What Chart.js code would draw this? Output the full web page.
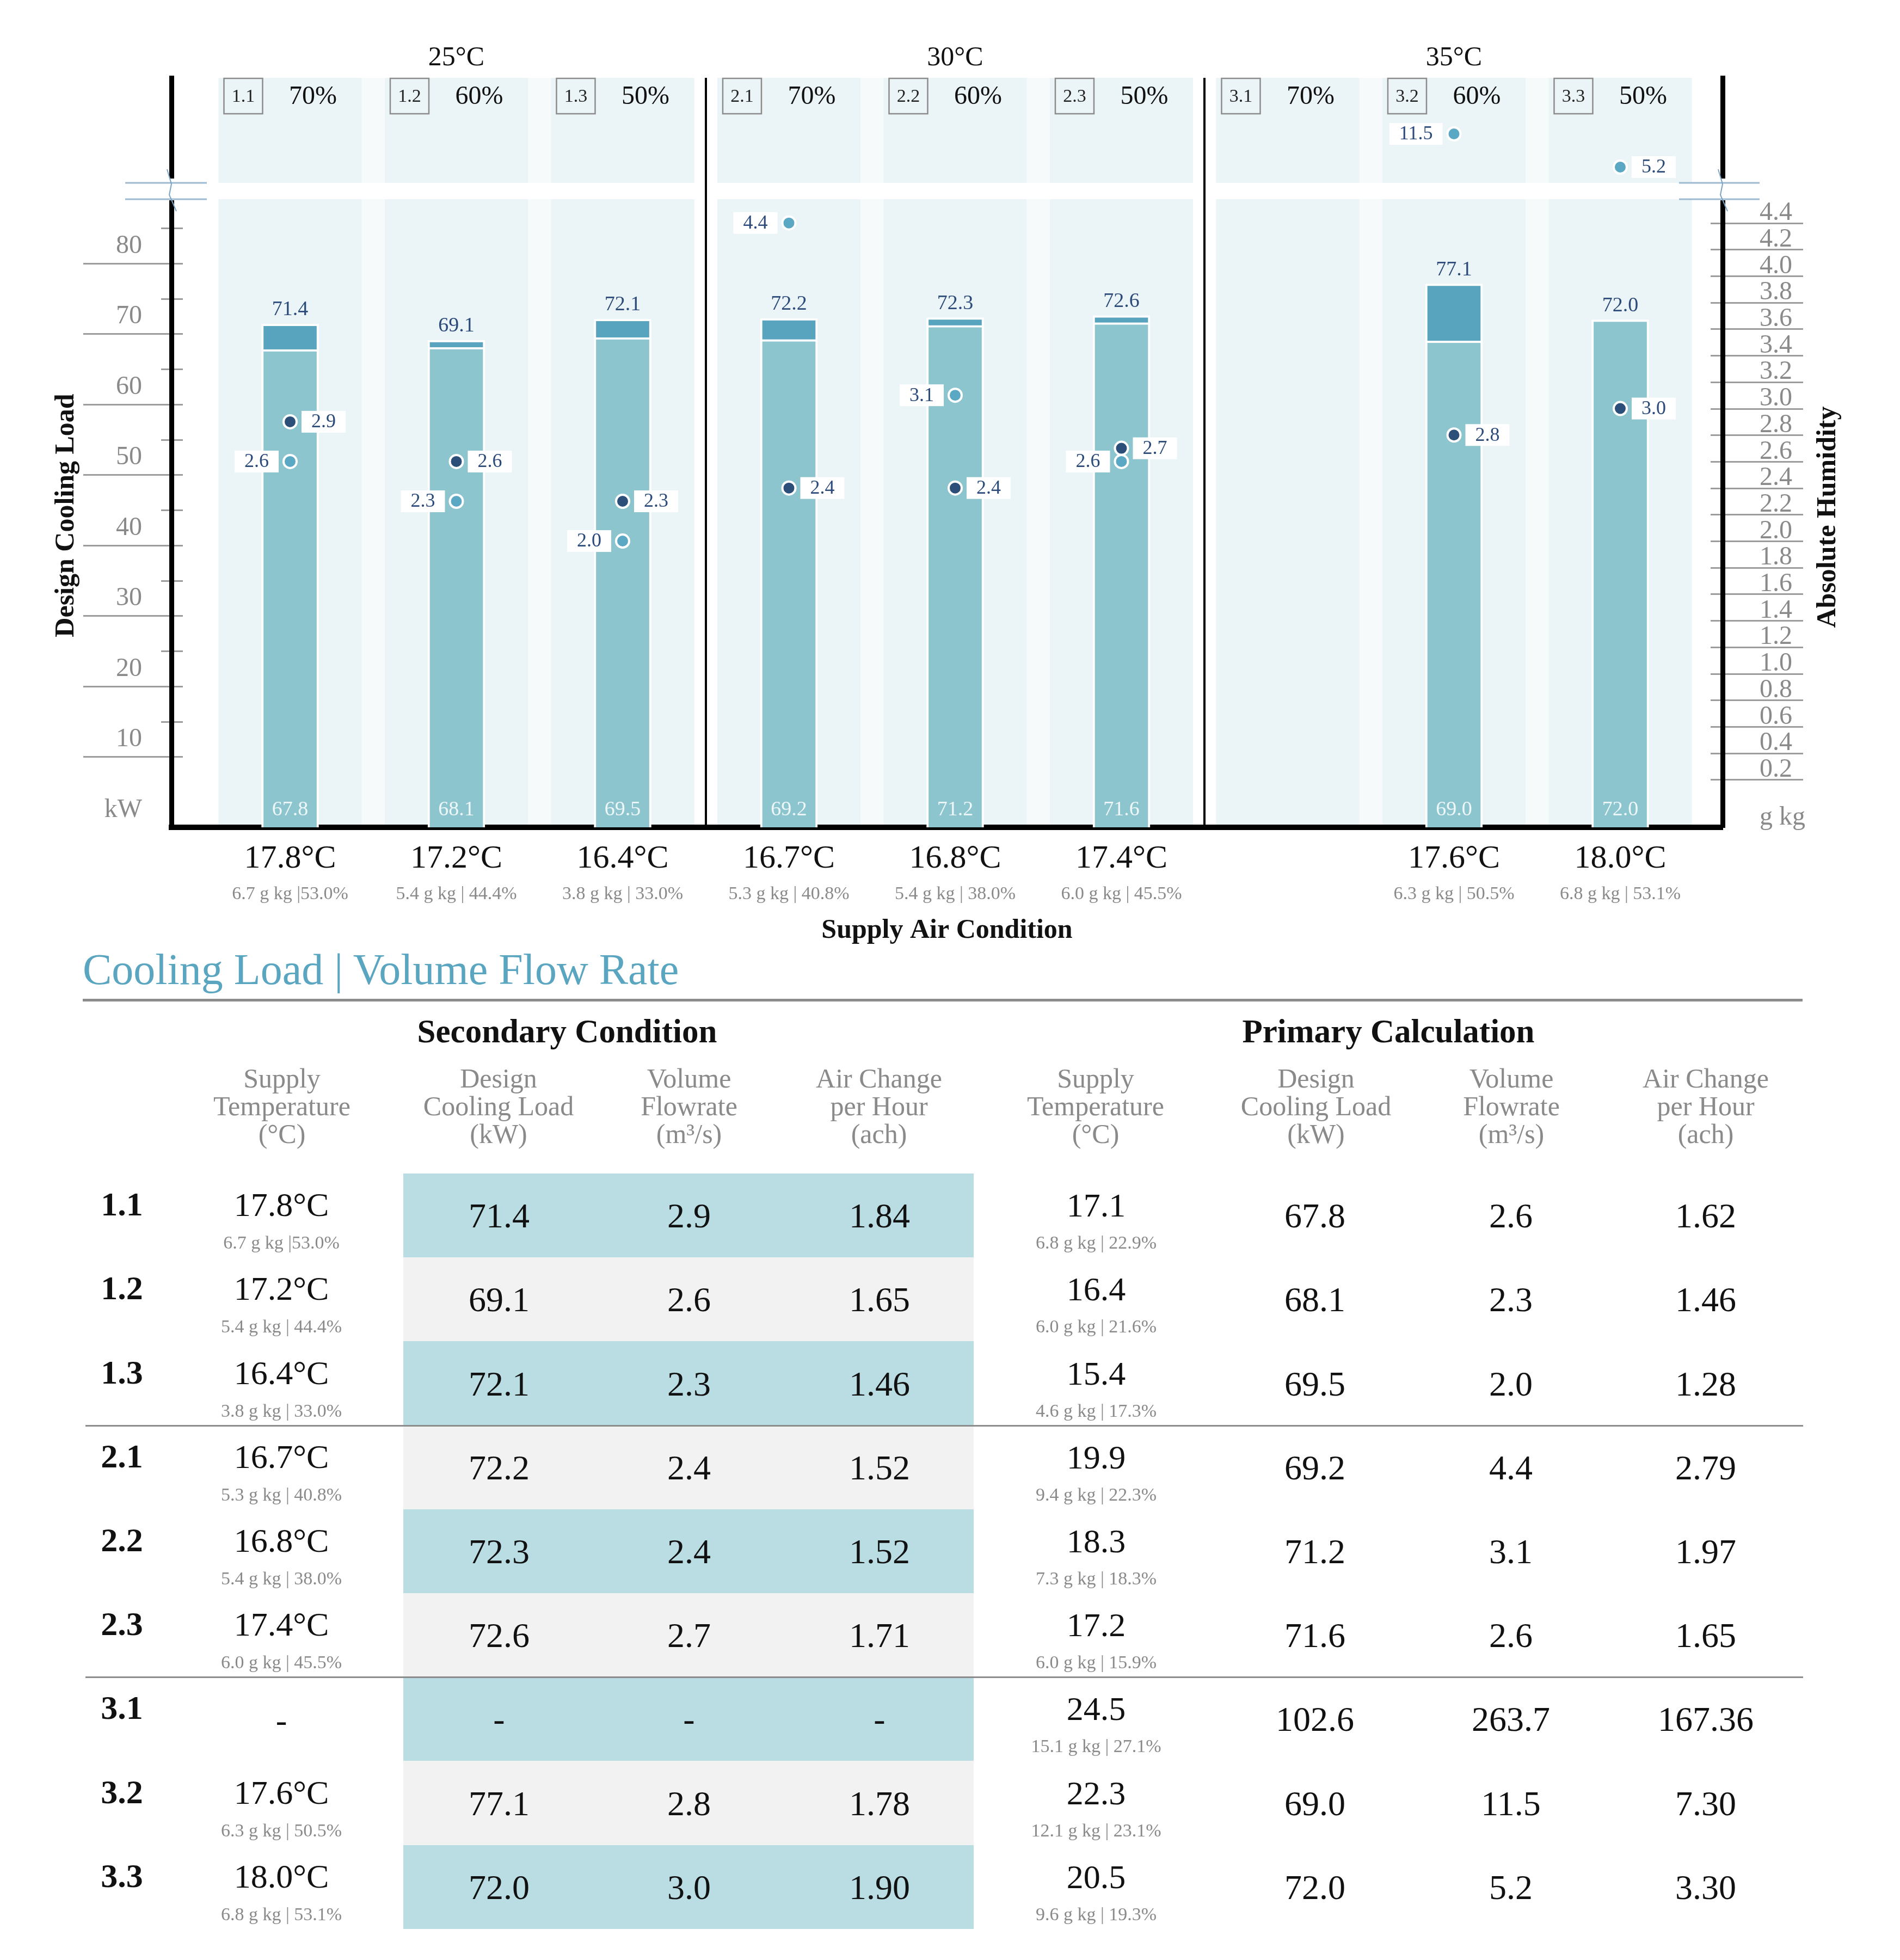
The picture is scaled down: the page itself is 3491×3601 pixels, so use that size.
<!DOCTYPE html>
<html><head><meta charset="utf-8">
<script src="https://cdn.jsdelivr.net/npm/chart.js@4.4.1/dist/chart.umd.min.js"></script>
<style>
html,body{margin:0;padding:0;background:#fff;}
body{width:3491px;height:3601px;position:relative;overflow:hidden;font-family:"Liberation Serif","Times New Roman",serif;}
#chartWrap{position:absolute;left:0;top:0;width:3491px;height:1760px;}
#tbl{position:absolute;left:0;top:0;width:3491px;height:3601px;pointer-events:none;}
.t{position:absolute;transform:translate(-50%,-50%);white-space:nowrap;line-height:1;}
.r{position:absolute;}
</style></head><body>
<div id="chartWrap"><canvas id="c" width="3491" height="1760"></canvas></div>
<div id="tbl"></div>
<script>
// ---------------- DATA ----------------
const caseIds = ['1.1','1.2','1.3','2.1','2.2','2.3','3.1','3.2','3.3'];
const outdoorTemps = ['25°C','30°C','35°C'];
const outdoorRH = ['70%','60%','50%','70%','60%','50%','70%','60%','50%'];
const secSupplyTemp = ['17.8°C','17.2°C','16.4°C','16.7°C','16.8°C','17.4°C','-','17.6°C','18.0°C'];
const secSupplyDetail = ['6.7 g kg |53.0%','5.4 g kg | 44.4%','3.8 g kg | 33.0%','5.3 g kg | 40.8%','5.4 g kg | 38.0%','6.0 g kg | 45.5%','','6.3 g kg | 50.5%','6.8 g kg | 53.1%'];
const secLoad = [71.4, 69.1, 72.1, 72.2, 72.3, 72.6, null, 77.1, 72.0];
const secFlow = [2.9, 2.6, 2.3, 2.4, 2.4, 2.7, null, 2.8, 3.0];
const secACH = ['1.84','1.65','1.46','1.52','1.52','1.71','-','1.78','1.90'];
const priSupplyTemp = ['17.1','16.4','15.4','19.9','18.3','17.2','24.5','22.3','20.5'];
const priSupplyDetail = ['6.8 g kg | 22.9%','6.0 g kg | 21.6%','4.6 g kg | 17.3%','9.4 g kg | 22.3%','7.3 g kg | 18.3%','6.0 g kg | 15.9%','15.1 g kg | 27.1%','12.1 g kg | 23.1%','9.6 g kg | 19.3%'];
const priLoad = [67.8, 68.1, 69.5, 69.2, 71.2, 71.6, 102.6, 69.0, 72.0];
const priFlow = [2.6, 2.3, 2.0, 4.4, 3.1, 2.6, 263.7, 11.5, 5.2];
const priACH = ['1.62','1.46','1.28','2.79','1.97','1.65','167.36','7.30','3.30'];
const loadTicks = [0, 10, 20, 30, 40, 50, 60, 70, 80];
const loadMinorTicks = [15, 25, 35, 45, 55, 65, 75, 85];
const humidityTicks = [0.2,0.4,0.6,0.8,1.0,1.2,1.4,1.6,1.8,2.0,2.2,2.4,2.6,2.8,3.0,3.2,3.4,3.6,3.8,4.0,4.2,4.4];
const groupCentres = [2, 5, 8];
const groupDividers = [3.5, 6.5];

// ---------------- STYLE / LAYOUT ----------------
const SERIF = '"Liberation Serif","Times New Roman",serif';
const C = {
  colBg:'#ebf4f6', groupBg:'#f6fafb', barLight:'#8dc5cf', barDark:'#58a3bd',
  navy:'#2b4f78', teal:'#5aa8c3', label:'#2c4b7b', grey:'#8a8a8a', tick:'#9c9c9c',
  breakLine:'#9dbad0', zig:'#7aa3c4', tblTeal:'#b9dde3', tblGrey:'#f2f2f2', title:'#5aa5c0'
};
const primaryLabelSide = ['left','left','left','left','left','left','left','left','right'];
const X_MIN = 0.2864, X_MAX = 9.6154;     // x axis extent around positions 1..9
const Y_MAX = 106.33;                     // left axis (kW)
const H_MIN = -0.16, H_MAX = 5.495;       // right axis (g/kg)
const YB_MIN = -120.07, YB_MAX = 22.137;  // broken upper part of right axis
const BREAK_AT = 4.58;                    // values above are shown above the axis break
const xs = caseIds.map((_, i) => i + 1);

const lightBars = priLoad.map((v, i) => secLoad[i] == null ? null : v);
const darkBars = secLoad.map((v, i) => v == null ? null : [priLoad[i], v]);
const priFlowLow = priFlow.map(v => v <= BREAK_AT ? v : null);
const priFlowHigh = priFlow.map(v => v > BREAK_AT ? v : null);

const backdrop = {
  id: 'backdrop',
  beforeDraw(chart) {
    const {ctx, chartArea: a, scales} = chart;
    const xS = scales.x, yS = scales.y, y2S = scales.y2;
    const unit = xS.getPixelForValue(2) - xS.getPixelForValue(1);
    const half = unit * 0.4305;
    ctx.save();
    [[1,3],[4,6],[7,9]].forEach(([f,l]) => {
      ctx.fillStyle = C.groupBg;
      const x0 = xS.getPixelForValue(f) - half, x1 = xS.getPixelForValue(l) + half;
      ctx.fillRect(x0, a.top, x1 - x0, a.bottom - a.top);
    });
    xs.forEach(v => {
      ctx.fillStyle = C.colBg;
      const cx = xS.getPixelForValue(v);
      ctx.fillRect(cx - half, a.top, 2 * half, a.bottom - a.top);
    });
    ctx.fillStyle = '#fff';
    ctx.fillRect(a.left, a.top + 193, a.right - a.left, 30);
    ctx.strokeStyle = '#000'; ctx.lineWidth = 4;
    groupDividers.forEach(v => {
      const px = Math.round(xS.getPixelForValue(v));
      ctx.beginPath(); ctx.moveTo(px, a.top); ctx.lineTo(px, a.bottom); ctx.stroke();
    });
    xs.forEach((v, i) => {
      const cx = xS.getPixelForValue(v);
      const bx = cx - half + 10, by = a.top + 1;
      ctx.strokeStyle = '#8c8c8c'; ctx.lineWidth = 2.5;
      ctx.strokeRect(bx, by, 71, 65);
      ctx.fillStyle = '#222'; ctx.font = '34px ' + SERIF;
      ctx.textAlign = 'center'; ctx.textBaseline = 'middle';
      ctx.fillText(caseIds[i], bx + 35.5, by + 34);
      ctx.fillStyle = '#111'; ctx.font = '48px ' + SERIF;
      ctx.fillText(outdoorRH[i], cx + 42, a.top + 35);
    });
    ctx.strokeStyle = C.tick; ctx.lineWidth = 3;
    loadTicks.filter(v => v > 0).forEach(v => {
      const py = Math.round(yS.getPixelForValue(v)) + 0.5;
      ctx.beginPath(); ctx.moveTo(a.left - 162, py); ctx.lineTo(a.left + 21, py); ctx.stroke();
    });
    loadMinorTicks.forEach(v => {
      const py = Math.round(yS.getPixelForValue(v)) + 0.5;
      ctx.beginPath(); ctx.moveTo(a.left - 19, py); ctx.lineTo(a.left + 21, py); ctx.stroke();
    });
    humidityTicks.forEach(v => {
      const py = Math.round(y2S.getPixelForValue(v)) + 0.5;
      ctx.beginPath(); ctx.moveTo(a.right - 22, py); ctx.lineTo(a.right + 148, py); ctx.stroke();
    });
    ctx.restore();
  },
  afterDatasetsDraw(chart) {
    const {ctx, chartArea: a} = chart;
    ctx.save();
    ctx.textAlign = 'center'; ctx.textBaseline = 'middle';
    const mDark = chart.getDatasetMeta(1), mLight = chart.getDatasetMeta(0);
    mDark.data.forEach((el, i) => {
      if (secLoad[i] == null) return;
      ctx.fillStyle = C.label; ctx.font = '38px ' + SERIF;
      ctx.fillText(secLoad[i].toFixed(1), el.x, el.y - 26);
    });
    mLight.data.forEach((el, i) => {
      if (lightBars[i] == null) return;
      ctx.fillStyle = '#eef7f8'; ctx.font = '38px ' + SERIF;
      ctx.fillText(lightBars[i].toFixed(1), el.x, a.bottom - 32);
    });
    const drawLbl = (el, val, side) => {
      if (val == null || !el || el.y < a.top || el.y > a.bottom) return;
      ctx.font = '36px ' + SERIF;
      const t = val.toFixed(1);
      const w = ctx.measureText(t).width + 36, h = 40;
      const bx = side === 'right' ? el.x + 21 : el.x - 21 - w;
      ctx.fillStyle = '#fff';
      ctx.fillRect(bx, el.y - h / 2, w, h);
      ctx.fillStyle = C.label;
      ctx.fillText(t, bx + w / 2, el.y + 1);
    };
    chart.getDatasetMeta(2).data.forEach((el, i) => drawLbl(el, secFlow[i], 'right'));
    chart.getDatasetMeta(3).data.forEach((el, i) => drawLbl(el, priFlowLow[i], primaryLabelSide[i]));
    chart.getDatasetMeta(4).data.forEach((el, i) => drawLbl(el, priFlowHigh[i], primaryLabelSide[i]));
    ctx.restore();
  },
  afterDraw(chart) {
    const {ctx, chartArea: a} = chart;
    ctx.save();
    ctx.fillStyle = '#fff';
    ctx.fillRect(a.left - 7, a.top + 185, 14, 40);
    ctx.fillRect(a.right - 7, a.top + 185, 14, 40);
    ctx.strokeStyle = C.breakLine; ctx.lineWidth = 3;
    [a.top + 193, a.top + 223].forEach(py => {
      ctx.beginPath(); ctx.moveTo(a.left - 85, py); ctx.lineTo(a.left + 65, py); ctx.stroke();
      ctx.beginPath(); ctx.moveTo(a.right - 80, py); ctx.lineTo(a.right + 68, py); ctx.stroke();
    });
    ctx.strokeStyle = C.zig; ctx.lineWidth = 2;
    [a.left, a.right].forEach(px => {
      ctx.beginPath();
      ctx.moveTo(px - 8, a.top + 168); ctx.lineTo(px, a.top + 195);
      ctx.lineTo(px - 4, a.top + 215); ctx.lineTo(px + 9, a.top + 245);
      ctx.stroke();
    });
    ctx.fillStyle = '#111'; ctx.font = 'bold 50px ' + SERIF;
    ctx.textAlign = 'center'; ctx.textBaseline = 'middle';
    ctx.translate(122, 947); ctx.rotate(-Math.PI / 2);
    ctx.fillText('Design Cooling Load', 0, 0);
    ctx.setTransform(1, 0, 0, 1, 0, 0);
    ctx.translate(3359, 950); ctx.rotate(-Math.PI / 2);
    ctx.fillText('Absolute Humidity', 0, 0);
    ctx.restore();
  }
};

const xCommon = { type:'linear', min:X_MIN, max:X_MAX, offset:false, grid:{display:false, drawTicks:false, offset:false} };

new Chart(document.getElementById('c'), {
  type: 'bar',
  data: {
    datasets: [
      { type:'bar', label:'Primary design cooling load', data: xs.map((x, i) => ({x, y: lightBars[i]})),
        backgroundColor: C.barLight, borderColor:'#fff', borderWidth:4, grouped:false,
        barThickness:105, maxBarThickness:105, xAxisID:'x', yAxisID:'y', order:3 },
      { type:'bar', label:'Secondary design cooling load', data: xs.map((x, i) => ({x, y: darkBars[i]})),
        backgroundColor: C.barDark, borderColor:'#fff', borderWidth:4, grouped:false,
        barThickness:105, maxBarThickness:105, xAxisID:'x', yAxisID:'y', order:3 },
      { type:'scatter', label:'Secondary volume flowrate', data: xs.map((x, i) => ({x, y: secFlow[i]})),
        pointRadius:12, pointBackgroundColor:C.navy, pointBorderColor:'#fff', pointBorderWidth:4,
        xAxisID:'x', yAxisID:'y2', order:2 },
      { type:'scatter', label:'Primary volume flowrate', data: xs.map((x, i) => ({x, y: priFlowLow[i]})),
        pointRadius:12, pointBackgroundColor:C.teal, pointBorderColor:'#fff', pointBorderWidth:4,
        xAxisID:'x', yAxisID:'y2', order:1 },
      { type:'scatter', label:'Primary volume flowrate (above break)', data: xs.map((x, i) => ({x, y: priFlowHigh[i]})),
        pointRadius:12, pointBackgroundColor:C.teal, pointBorderColor:'#fff', pointBorderWidth:4,
        xAxisID:'x', yAxisID:'yBreak', order:1 }
    ]
  },
  options: {
    responsive:false, animation:false, events:[], devicePixelRatio:1,
    layout:{ padding:0 },
    plugins:{ legend:{display:false}, tooltip:{enabled:false} },
    scales: {
      x: Object.assign({}, xCommon, {
        position:'bottom',
        afterBuildTicks: s => { s.ticks = xs.map(value => ({value})); },
        ticks:{ autoSkip:false, maxRotation:0, padding:22, color:'#111', font:{family:SERIF, size:60},
          callback: v => { const i = Math.round(v) - 1; return secLoad[i] == null ? '' : secSupplyTemp[i]; } },
        border:{ display:true, color:'#000', width:10 },
        afterFit: s => { s.height = 100; }
      }),
      x2: Object.assign({}, xCommon, {
        position:'bottom',
        afterBuildTicks: s => { s.ticks = xs.map(value => ({value})); },
        ticks:{ autoSkip:false, maxRotation:0, padding:3, color:C.grey, font:{family:SERIF, size:34},
          callback: v => secSupplyDetail[Math.round(v) - 1] },
        border:{ display:false },
        title:{ display:true, text:'Supply Air Condition', color:'#111', font:{family:SERIF, size:50, weight:'bold'}, padding:{top:0, bottom:20} },
        afterFit: s => { s.height = 140; }
      }),
      xTop: Object.assign({}, xCommon, {
        position:'top',
        afterBuildTicks: s => { s.ticks = groupCentres.map(value => ({value})); },
        ticks:{ autoSkip:false, maxRotation:0, padding:6, color:'#111', font:{family:SERIF, size:50},
          callback: v => outdoorTemps[groupCentres.indexOf(Math.round(v))] },
        border:{ display:false },
        afterFit: s => { s.height = 143; }
      }),
      y: {
        type:'linear', position:'left', min:0, max:Y_MAX,
        afterBuildTicks: s => { s.ticks = loadTicks.map(value => ({value})); },
        ticks:{ autoSkip:false, padding:54, labelOffset:-32, color:C.grey, font:{family:SERIF, size:48},
          callback: v => v === 0 ? 'kW' : String(v) },
        grid:{ display:false, drawTicks:false },
        border:{ display:true, color:'#000', width:9 },
        afterFit: s => { s.width = 315; }
      },
      y2: {
        type:'linear', position:'right', min:H_MIN, max:H_MAX,
        afterBuildTicks: s => { s.ticks = [H_MIN].concat(humidityTicks).map(value => ({value})); },
        ticks:{ autoSkip:false, padding:68, labelOffset:-18, color:C.grey, font:{family:SERIF, size:48},
          callback: v => v === H_MIN ? 'g kg' : v.toFixed(1) },
        grid:{ display:false, drawTicks:false },
        border:{ display:true, color:'#000', width:9 },
        afterFit: s => { s.width = 326; }
      },
      yBreak: { type:'linear', position:'right', display:false, min:YB_MIN, max:YB_MAX }
    }
  },
  plugins:[backdrop]
});

// ---------------- TABLE ----------------
const tbl = document.getElementById('tbl');
function txt(s, x, y, o) {
  o = o || {};
  const d = document.createElement('div');
  d.className = 't';
  d.textContent = s;
  d.style.left = x + 'px'; d.style.top = y + 'px';
  d.style.fontSize = (o.size || 62) + 'px';
  if (o.bold) d.style.fontWeight = 'bold';
  d.style.color = o.color || '#111';
  if (o.left) d.style.transform = 'translate(0,-50%)';
  tbl.appendChild(d);
}
function rect(x, y, w, h, c) {
  const d = document.createElement('div');
  d.className = 'r';
  d.style.left = x + 'px'; d.style.top = y + 'px';
  d.style.width = w + 'px'; d.style.height = h + 'px';
  d.style.background = c;
  tbl.appendChild(d);
}
txt('Cooling Load | Volume Flow Rate', 152, 1781, {size:80, color:C.title, left:true});
rect(152, 1835, 3160, 5, '#8c8c8c');
txt('Secondary Condition', 1042, 1894, {size:61, bold:true});
txt('Primary Calculation', 2551, 1894, {size:61, bold:true});
const headers = [['Supply','Temperature','(°C)'],['Design','Cooling Load','(kW)'],['Volume','Flowrate','(m³/s)'],['Air Change','per Hour','(ach)']];
const hx = [518, 916, 1266, 1615, 2013, 2418, 2777, 3134];
hx.forEach((x, k) => headers[k % 4].forEach((s, j) => txt(s, x, 1981 + j * 51, {size:50, color:C.grey})));

const ROW0 = 2156, ROWH = 154.2;
const fmt = v => v == null ? '-' : v.toFixed(1);
caseIds.forEach((id, i) => {
  const top = Math.round(ROW0 + i * ROWH), bot = Math.round(ROW0 + (i + 1) * ROWH);
  const mid = ROW0 + i * ROWH + ROWH / 2;
  rect(741, top, 1048, bot - top, i % 2 === 0 ? C.tblTeal : C.tblGrey);
  txt(id, 224, mid - 21, {size:62, bold:true});
  if (secSupplyTemp[i] === '-') txt('-', 517, mid + 2, {size:62});
  else { txt(secSupplyTemp[i], 517, mid - 20, {size:62}); txt(secSupplyDetail[i], 517, mid + 50, {size:34, color:C.grey}); }
  txt(fmt(secLoad[i]), 917, mid + 1, {size:64});
  txt(fmt(secFlow[i]), 1266, mid + 1, {size:64});
  txt(secACH[i], 1616, mid + 1, {size:64});
  txt(priSupplyTemp[i], 2014, mid - 19, {size:62});
  txt(priSupplyDetail[i], 2014, mid + 50, {size:34, color:C.grey});
  txt(priLoad[i].toFixed(1), 2416, mid + 1, {size:64});
  txt(priFlow[i].toFixed(1), 2776, mid + 1, {size:64});
  txt(priACH[i], 3134, mid + 1, {size:64});
});
[3, 6].forEach(k => rect(157, Math.round(ROW0 + k * ROWH) - 1, 3156, 3, '#8c8c8c'));
</script>
</body></html>
